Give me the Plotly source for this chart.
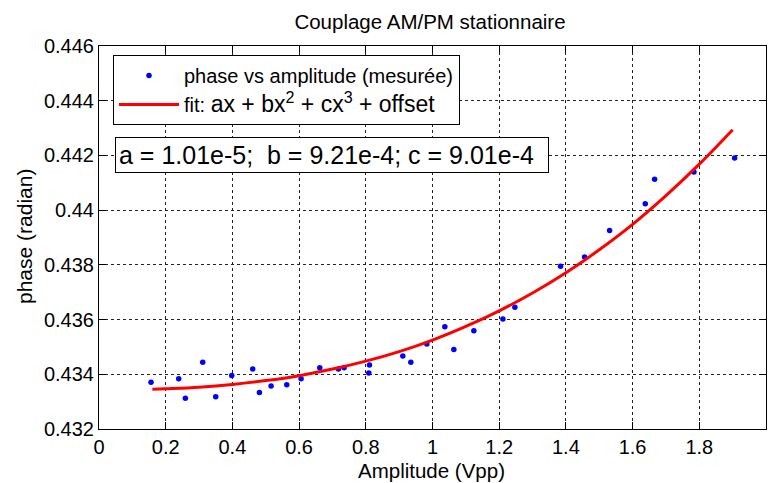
import plotly.graph_objects as go

amplitude = [0.156, 0.239, 0.259, 0.311, 0.350, 0.398, 0.461, 0.481, 0.516, 0.563,
             0.606, 0.662, 0.718, 0.735, 0.809, 0.811, 0.911, 0.935, 0.983, 1.037,
             1.064, 1.124, 1.211, 1.247, 1.384, 1.456, 1.531, 1.638, 1.666, 1.784, 1.906]
phase = [0.43371, 0.43384, 0.43312, 0.43444, 0.43318, 0.43396, 0.43419, 0.43333, 0.43357, 0.43362,
         0.43384, 0.43424, 0.43419, 0.43424, 0.43405, 0.43434, 0.43467, 0.43444, 0.43511, 0.43574,
         0.43491, 0.43559, 0.43602, 0.43645, 0.43795, 0.43829, 0.43926, 0.44023, 0.44113, 0.44139, 0.44191]

# fitted curve
fit_x = [0.16, 0.2, 0.3, 0.4, 0.5, 0.6, 0.7, 0.8, 0.9, 1.0, 1.1, 1.2, 1.3, 1.4, 1.5, 1.6, 1.7, 1.8, 1.9]
fit_y = [0.43345, 0.43347, 0.43353, 0.43363, 0.43377, 0.43395, 0.43419, 0.43448, 0.43483, 0.43525,
         0.43575, 0.43632, 0.43697, 0.43771, 0.43855, 0.43948, 0.44053, 0.44168, 0.44294]

x_ticks = [0, 0.2, 0.4, 0.6, 0.8, 1.0, 1.2, 1.4, 1.6, 1.8, 2.0]
x_tick_labels = ["0", "0.2", "0.4", "0.6", "0.8", "1", "1.2", "1.4", "1.6", "1.8", "2"]
y_ticks = [0.432, 0.434, 0.436, 0.438, 0.440, 0.442, 0.444, 0.446]
y_tick_labels = ["0.432", "0.434", "0.436", "0.438", "0.44", "0.442", "0.444", "0.446"]

title_text = "Couplage AM/PM stationnaire"
x_title = "Amplitude (Vpp)"
y_title = "phase (radian)"
legend_points = "phase vs amplitude (mesurée)"
legend_fit = ('fit: <span style="font-size:23px">ax + bx<sup>2</sup> + cx<sup>3</sup>'
              ' + offset</span>')
coef_text = "a = 1.01e-5;  b = 9.21e-4; c = 9.01e-4"

FONT = "Liberation Sans, Arial, sans-serif"

# plot-area geometry in pixels
L, R, T, B = 99, 766, 46, 429
W, H = 771, 483
PW, PH = R - L, B - T


def px_x(px):
    return (px - L) / PW


def px_y(py):
    return (B - py) / PH


fig = go.Figure()
fig.add_trace(go.Scatter(
    x=amplitude, y=phase, mode="markers", name=legend_points,
    marker=dict(color="#0000ff", size=5.5, line=dict(width=0)),
))
fig.add_trace(go.Scatter(
    x=fit_x, y=fit_y, mode="lines", name=legend_fit,
    line=dict(color="#ff0000", width=3, shape="spline"),
))

axis_style = dict(showgrid=True, gridcolor="#222222", gridwidth=1, griddash="3px,3px",
                  showline=True, linecolor="black", linewidth=1, mirror="ticks",
                  ticks="inside", ticklen=7, tickcolor="black", zeroline=False,
                  automargin=False,
                  tickfont=dict(family=FONT, size=20, color="black"))

fig.update_xaxes(range=[0, 2], tickvals=x_ticks, ticktext=x_tick_labels, **axis_style)
fig.update_yaxes(range=[0.432, 0.446], tickvals=y_ticks, ticktext=y_tick_labels, **axis_style)

# axis titles
fig.add_annotation(xref="paper", yref="paper", x=px_x(431), y=px_y(470),
                   xanchor="center", yanchor="middle", text=x_title, showarrow=False,
                   font=dict(family=FONT, size=20.5, color="black"))
fig.add_annotation(xref="paper", yref="paper", x=px_x(24), y=px_y(237),
                   xanchor="center", yanchor="middle", text=y_title, showarrow=False,
                   textangle=-90, font=dict(family=FONT, size=21, color="black"))

# coefficient box
fig.add_annotation(
    xref="paper", yref="paper", x=px_x(115), y=px_y(137),
    xanchor="left", yanchor="top", text=coef_text, showarrow=False,
    font=dict(family=FONT, size=25, color="black"), align="left", width=426,
    bordercolor="black", borderwidth=1, borderpad=3, bgcolor="white",
)

fig.update_layout(
    width=W, height=H,
    margin=dict(l=L, r=W - R, t=T, b=H - B),
    paper_bgcolor="white", plot_bgcolor="white",
    font=dict(family=FONT, size=20, color="black"),
    title=dict(text=title_text, x=430 / W, xanchor="center", y=1 - 22 / H, yanchor="middle",
               font=dict(family=FONT, size=20.5, color="black")),
    legend=dict(x=px_x(113), y=px_y(55), xanchor="left", yanchor="top",
                bgcolor="white", bordercolor="black", borderwidth=1,
                font=dict(family=FONT, size=20, color="black"), itemwidth=60),
    showlegend=True,
)

fig.write_html("out.html", config={"displayModeBar": False},
               post_script="document.body.style.margin='0';")
